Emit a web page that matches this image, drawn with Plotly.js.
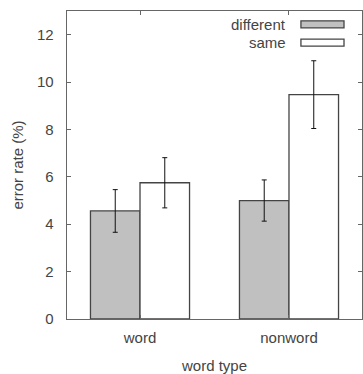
<!DOCTYPE html>
<html>
<head>
<meta charset="utf-8">
<script src="https://cdn.plot.ly/plotly-3.0.1.min.js"></script>
<style>html,body{margin:0;padding:0;background:#fff;}#chart{width:363px;height:374px;}</style>
</head>
<body>
<div id="chart"></div>
<script>
const categories = ["word", "nonword"];
const seriesNames = ["different", "same"];
const differentValues = [4.56, 5.0];
const differentErrors = [0.9, 0.87];
const sameValues = [5.75, 9.47];
const sameErrors = [1.06, 1.43];
const yTickValues = [0, 2, 4, 6, 8, 10, 12];

function mkFont() {
  return {family: "Liberation Sans, Arial, sans-serif", size: 15, color: "#444444"};
}

const traces = [
  {
    type: "bar", name: seriesNames[0], x: categories, y: differentValues,
    marker: {color: "#c0c0c0", line: {color: "#444", width: 1.3}},
    error_y: {type: "data", array: differentErrors, visible: true, color: "#111", thickness: 1, width: 2.5},
    showlegend: false
  },
  {
    type: "bar", name: seriesNames[1], x: categories, y: sameValues,
    marker: {color: "#ffffff", line: {color: "#444", width: 1.3}},
    error_y: {type: "data", array: sameErrors, visible: true, color: "#111", thickness: 1, width: 2.5},
    showlegend: false
  }
];

const legendX0 = 0.793, legendX1 = 0.939;
const legendRows = [
  {name: seriesNames[0], fill: "#c0c0c0", y0: 0.945, y1: 0.968},
  {name: seriesNames[1], fill: "#ffffff", y0: 0.886, y1: 0.909}
];

const layout = {
  width: 363, height: 374,
  margin: {l: 67, r: 1, t: 11, b: 55},
  paper_bgcolor: "#fff", plot_bgcolor: "#fff",
  font: mkFont(),
  barmode: "group", bargap: 0.335, bargroupgap: 0,
  showlegend: false,
  xaxis: {
    type: "category", range: [-0.49, 1.49],
    showline: true, linecolor: "#666", linewidth: 1.3, mirror: "allticks",
    ticks: "inside", ticklen: 4, tickcolor: "#666",
    showgrid: false, zeroline: false,
    tickfont: mkFont(), ticklabelstandoff: 5,
    title: {text: "word type", font: mkFont(), standoff: 20}
  },
  yaxis: {
    range: [0, 13], tickvals: yTickValues, ticktext: yTickValues.map(String),
    showline: true, linecolor: "#666", linewidth: 1.3, mirror: "allticks",
    ticks: "inside", ticklen: 4, tickcolor: "#666",
    showgrid: false, zeroline: false,
    tickfont: mkFont(), ticklabelstandoff: 9,
    title: {text: "error rate (%)", font: mkFont(), standoff: 9}
  },
  shapes: legendRows.map(r => ({
    type: "rect", xref: "paper", yref: "paper",
    x0: legendX0, x1: legendX1, y0: r.y0, y1: r.y1,
    fillcolor: r.fill, line: {color: "#444", width: 1.3}
  })),
  annotations: legendRows.map(r => ({
    xref: "paper", yref: "paper", x: 0.75, y: (r.y0 + r.y1) / 2,
    xanchor: "right", yanchor: "middle", showarrow: false,
    text: r.name, font: mkFont()
  }))
};

Plotly.newPlot("chart", traces, layout, {displayModeBar: false, staticPlot: true});
</script>
</body>
</html>
